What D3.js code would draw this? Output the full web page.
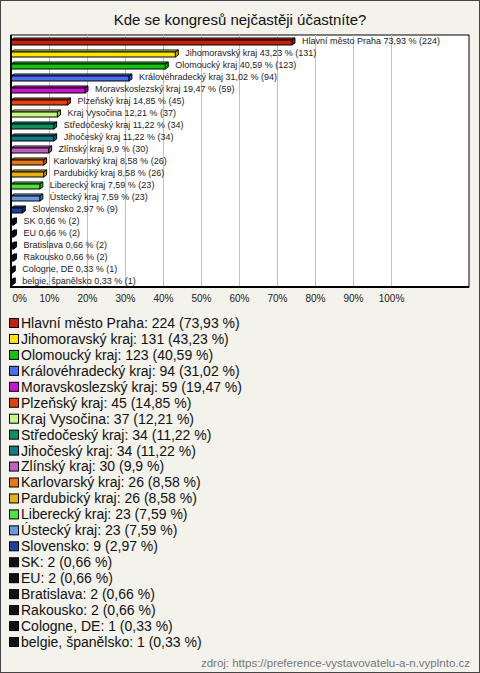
<!DOCTYPE html>
<html><head><meta charset="utf-8">
<script src="https://cdn.jsdelivr.net/npm/d3@7"></script>
<style>html,body{margin:0;padding:0;background:#f3f2eb;}svg{display:block;font-family:"Liberation Sans",Arial,sans-serif;}</style>
</head><body>
<svg id="c" width="480" height="673"></svg>
<script>
const title = "Kde se kongresů nejčastěji účastníte?";
const categories = ["Hlavní město Praha","Jihomoravský kraj","Olomoucký kraj","Královéhradecký kraj","Moravskoslezský kraj","Plzeňský kraj","Kraj Vysočina","Středočeský kraj","Jihočeský kraj","Zlínský kraj","Karlovarský kraj","Pardubický kraj","Liberecký kraj","Ústecký kraj","Slovensko","SK","EU","Bratislava","Rakousko","Cologne, DE","belgie, španělsko"];
const counts = [224,131,123,94,59,45,37,34,34,30,26,26,23,23,9,2,2,2,2,1,1];
const percents = [73.93,43.23,40.59,31.02,19.47,14.85,12.21,11.22,11.22,9.9,8.58,8.58,7.59,7.59,2.97,0.66,0.66,0.66,0.66,0.33,0.33];
const colors = ["#c4200c","#ffe600","#10c410","#4a6ef0","#c814d0","#e4400c","#c8f880","#0c9060","#187888","#c060c0","#e87810","#e8b010","#50e040","#6898e0","#2040a0","#111111","#111111","#111111","#111111","#111111","#111111"];
const tickValues = [0,10,20,30,40,50,60,70,80,90,100];
const source = "zdroj: https://preference-vystavovatelu-a-n.vyplnto.cz";

(function(){
const svg = d3.select("#c");
const fmt = v => String(v).replace(".", ",");

svg.append("rect").attr("x",0.5).attr("y",0.5).attr("width",479).attr("height",672)
  .attr("fill","#f3f2eb").attr("stroke","#444");

svg.append("text").attr("x",240).attr("y",25).attr("text-anchor","middle")
  .attr("font-size",15).attr("fill","#111").text(title);

const pLeft = 11, pRight = 469, pTop = 35, pBottom = 287;
const x = d3.scaleLinear().domain([0, (pRight-pLeft)/3.8]).range([pLeft, pRight]);
const y = d3.scaleBand().domain(categories).range([pTop, pBottom]);

svg.append("rect").attr("x",pLeft).attr("y",pTop).attr("width",pRight-pLeft).attr("height",pBottom-pTop)
  .attr("fill","#fff").attr("stroke","#000");

svg.append("g").selectAll("line").data(tickValues.filter(d=>d>0)).join("line")
  .attr("x1",d=>Math.round(x(d))+0.5).attr("x2",d=>Math.round(x(d))+0.5).attr("y1",pTop).attr("y2",pBottom)
  .attr("stroke","#c0c0c0");

const axis = d3.axisBottom(x).tickValues(tickValues).tickFormat(d=>d+"%").tickSize(0).tickPadding(0);
const ag = svg.append("g").attr("transform",`translate(0,${pBottom+8})`).call(axis);
ag.select(".domain").remove();
ag.selectAll("text").attr("font-size",10).attr("fill","#222").attr("font-family","Liberation Sans, Arial, sans-serif").attr("dy","0.71em");
ag.selectAll(".tick").filter(d=>d===0).select("text").attr("text-anchor","start").attr("x",1);

const dx = 3, dy = 2, h = 5;
const rows = categories.map((c,i)=>({c, n:counts[i], p:percents[i], col:colors[i]}));
const g = svg.append("g");
rows.forEach(r=>{
  const y0 = y(r.c) + 5;
  const x0 = x(0), x1 = x(r.p);
  const col = d3.color(r.col);
  g.append("polygon").attr("points",`${x0},${y0} ${x0+dx},${y0-dy} ${x1+dx},${y0-dy} ${x1},${y0}`)
    .attr("fill", col.brighter(0.5)).attr("stroke","#000").attr("stroke-width",1);
  g.append("polygon").attr("points",`${x1},${y0} ${x1+dx},${y0-dy} ${x1+dx},${y0+h-dy} ${x1},${y0+h}`)
    .attr("fill", col.darker(0.7)).attr("stroke","#000").attr("stroke-width",1);
  g.append("rect").attr("x",x0).attr("y",y0).attr("width",Math.max(0,x1-x0)).attr("height",h)
    .attr("fill", r.col).attr("stroke","#000").attr("stroke-width",1);
  g.append("text").attr("x",x1+10).attr("y",y0+0.8).attr("dy","0.35em")
    .attr("font-size",9).attr("fill","#222").text(`${r.c} ${fmt(r.p)} % (${r.n})`);
});
svg.append("line").attr("x1",pLeft).attr("x2",pLeft).attr("y1",pTop).attr("y2",pBottom+1).attr("stroke","#000").attr("stroke-width",2);
svg.append("line").attr("x1",pLeft).attr("x2",pRight).attr("y1",pBottom).attr("y2",pBottom).attr("stroke","#000").attr("stroke-width",2);

const ly = d3.scalePoint().domain(categories).range([323, 642]);
const lg = svg.append("g");
rows.forEach(r=>{
  const cy = ly(r.c);
  lg.append("rect").attr("x",9.5).attr("y",cy-4.5).attr("width",9).attr("height",9)
    .attr("fill",r.col).attr("stroke","#000");
  lg.append("text").attr("x",21).attr("y",cy).attr("dy","0.35em").attr("font-size",14).attr("fill","#111")
    .text(`${r.c}: ${r.n} (${fmt(r.p)} %)`);
});

svg.append("text").attr("x",470).attr("y",667).attr("text-anchor","end").attr("font-size",11.5)
  .attr("fill","#777").text(source);
})();
</script>
</body></html>
